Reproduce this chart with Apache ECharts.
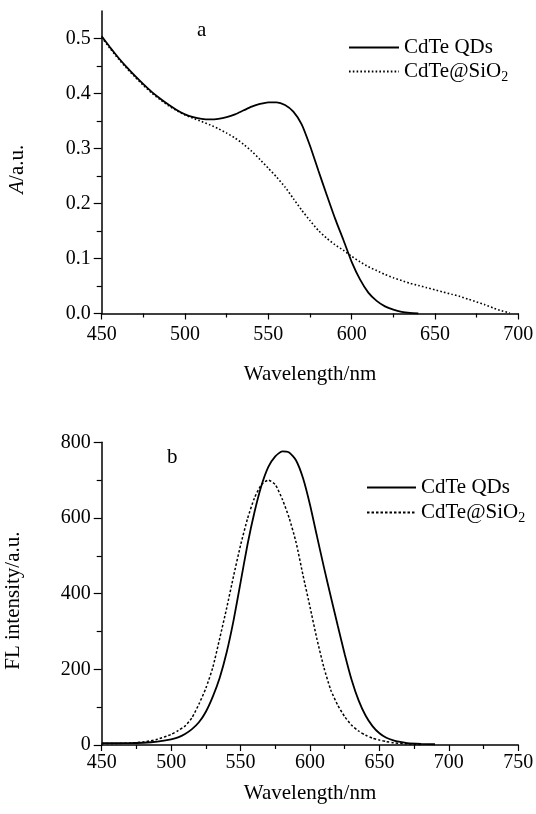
<!DOCTYPE html>
<html>
<head>
<meta charset="utf-8">
<script src="https://cdn.jsdelivr.net/npm/echarts@6/dist/echarts.min.js"></script>
<style>
    html, body { margin: 0; padding: 0; background: #fff; }
    #main { width: 536px; height: 814px; }
</style>
</head>
<body>
<div id="main"></div>
<script>
var element = document.querySelector('#main')
var myChart = echarts.init(element)

// panel a: absorption
const absWlQD = [450, 455, 460, 465, 470, 475, 480, 485, 490, 495, 500, 505, 510, 515, 520, 525, 530, 535, 540, 545,
    550, 555, 560, 565, 570, 575, 580, 585, 590, 595, 600, 605, 610, 615, 620, 625, 630, 635, 640]
const absQD = [0.504, 0.484, 0.465, 0.448, 0.432, 0.417, 0.403, 0.391, 0.380, 0.370, 0.362, 0.357, 0.354, 0.353, 0.354,
    0.357, 0.362, 0.369, 0.376, 0.381, 0.384, 0.384, 0.379, 0.367, 0.344, 0.305, 0.260, 0.216, 0.173, 0.134, 0.094,
    0.062, 0.038, 0.023, 0.013, 0.007, 0.003, 0.001, 0]
const absWlSi = [450, 455, 460, 465, 470, 475, 480, 485, 490, 495, 500, 505, 510, 515, 520, 525, 530, 535, 540, 545,
    550, 555, 560, 565, 570, 575, 580, 585, 590, 595, 600, 605, 610, 615, 620, 625, 630, 635, 640, 645, 650, 655, 660,
    665, 670, 675, 680, 685, 690, 695]
const absSi = [0.502, 0.482, 0.463, 0.446, 0.430, 0.415, 0.401, 0.389, 0.378, 0.369, 0.361, 0.355, 0.349, 0.343, 0.336,
    0.328, 0.319, 0.308, 0.295, 0.280, 0.264, 0.248, 0.230, 0.209, 0.188, 0.169, 0.151, 0.137, 0.125, 0.115, 0.104,
    0.094, 0.085, 0.078, 0.071, 0.065, 0.060, 0.055, 0.051, 0.047, 0.043, 0.039, 0.035, 0.031, 0.026, 0.021, 0.016,
    0.010, 0.005, 0.001]

// panel b: fluorescence
const flWlQD = [450, 460, 470, 480, 490, 500, 505, 510, 515, 520, 525, 530, 535, 540, 545, 550, 555, 560, 565, 570,
    575, 580, 585, 590, 595, 600, 605, 610, 615, 620, 625, 630, 635, 640, 645, 650, 655, 660, 665, 670, 680, 690]
const flQD = [5, 5, 5, 6, 9, 15, 20, 29, 42, 60, 88, 128, 178, 245, 330, 430, 530, 615, 685, 735,
    763, 776, 773, 752, 705, 635, 552, 470, 392, 315, 240, 172, 118, 78, 50, 31, 19, 12, 8, 5, 3, 2]
const flWlSi = [450, 460, 470, 480, 490, 500, 505, 510, 515, 520, 525, 530, 535, 540, 545, 550, 555, 560, 565, 570,
    575, 580, 585, 590, 595, 600, 605, 610, 615, 620, 625, 630, 635, 640, 645, 650, 655, 660, 670, 680]
const flSi = [4, 4, 5, 8, 15, 28, 38, 50, 72, 108, 150, 205, 282, 362, 447, 528, 598, 653, 688, 700,
    688, 650, 600, 535, 448, 365, 280, 205, 145, 105, 75, 52, 37, 26, 18, 13, 9, 6, 3, 1]

const aLabels = [0, 0.1, 0.2, 0.3, 0.4, 0.5]
const aMinor = [0.05, 0.15, 0.25, 0.35, 0.45]

const nameQD = 'CdTe QDs'
const nameSi = 'CdTe@SiO2'

const pairs = (xs, ys) => xs.map((x, i) => [x, ys[i]])

const font = 'Liberation Serif'
const black = '#000'
const tickSize = 20
const textSize = 21

const axisCommon = {
    axisLine: { show: true, onZero: false, lineStyle: { color: black, width: 1.5 } },
    splitLine: { show: false },
    nameLocation: 'middle',
    nameTextStyle: { fontFamily: font, fontSize: textSize, color: black },
}

const legendFormatter = (name) => name === nameSi ? 'CdTe@SiO{sub|2}' : name
const legendText = {
    fontFamily: font, fontSize: textSize, color: black,
    rich: { sub: { fontFamily: font, fontSize: 14, color: black, padding: [12, 0, 0, 0] } }
}

const option = {
    backgroundColor: '#fff',
    animation: false,
    title: [
        { text: 'a', left: 197, top: 20, padding: 0, textStyle: { fontFamily: font, fontSize: textSize, fontWeight: 'normal', color: black } },
        { text: 'b', left: 167, top: 447, padding: 0, textStyle: { fontFamily: font, fontSize: textSize, fontWeight: 'normal', color: black } },
    ],
    legend: [
        {
            data: [nameQD, nameSi], orient: 'vertical', left: 348, top: 37, itemWidth: 50, itemHeight: 14,
            itemGap: 3, formatter: legendFormatter, textStyle: legendText, padding: 0,
            itemStyle: { opacity: 0 },
        },
        {
            data: [nameQD + ' ', nameSi + ' '], orient: 'vertical', left: 366, top: 477, itemWidth: 49, itemHeight: 14,
            itemGap: 4, formatter: (n) => legendFormatter(n.trim()), textStyle: legendText, padding: 0,
            itemStyle: { opacity: 0 },
        },
    ],
    grid: [
        { left: 101.7, right: 17.7, top: 11, height: 302.5, outerBoundsMode: 'none', containLabel: false },
        { left: 101.7, right: 17.7, top: 442.3, height: 302.7, outerBoundsMode: 'none', containLabel: false },
    ],
    xAxis: [
        Object.assign({}, axisCommon, {
            gridIndex: 0, type: 'value', min: 450, max: 700, interval: 50,
            name: 'Wavelength/nm', nameGap: 50,
            axisTick: { show: true, length: 6, lineStyle: { color: black, width: 1.2 } },
            minorTick: { show: true, splitNumber: 2, length: 4, lineStyle: { color: black, width: 1.2 } },
            axisLabel: { fontFamily: font, fontSize: tickSize, color: black, margin: 11 },
        }),
        Object.assign({}, axisCommon, {
            gridIndex: 1, type: 'value', min: 450, max: 750, interval: 50,
            name: 'Wavelength/nm', nameGap: 38,
            axisTick: { show: true, length: 6, lineStyle: { color: black, width: 1.2 } },
            minorTick: { show: true, splitNumber: 2, length: 4, lineStyle: { color: black, width: 1.2 } },
            axisLabel: { fontFamily: font, fontSize: tickSize, color: black, margin: 8 },
        }),
    ],
    yAxis: [
        Object.assign({}, axisCommon, {
            gridIndex: 0, type: 'value', min: 0, max: 0.55,
            name: '{i|A}/a.u.', nameGap: 74,
            nameTextStyle: {
                fontFamily: font, fontSize: textSize, color: black, padding: [0, 14, 0, 0],
                rich: { i: { fontFamily: font, fontSize: textSize, fontStyle: 'italic', color: black } }
            },
            axisTick: { show: true, length: 8, customValues: aLabels, lineStyle: { color: black, width: 1.2 } },
            axisLabel: { fontFamily: font, fontSize: tickSize, color: black, margin: 11, customValues: aLabels,
                formatter: (v) => v.toFixed(1) },
        }),
        {
            gridIndex: 0, type: 'value', min: 0, max: 0.55, position: 'left',
            axisLine: { show: false }, splitLine: { show: false }, axisLabel: { show: false },
            axisTick: { show: true, length: 5, customValues: aMinor, lineStyle: { color: black, width: 1.2 } },
        },
        Object.assign({}, axisCommon, {
            gridIndex: 1, type: 'value', min: 0, max: 800, interval: 200,
            name: 'FL intensity/a.u.', nameGap: 78,
            nameTextStyle: { fontFamily: font, fontSize: textSize, color: black, padding: [0, 14, 0, 0] },
            axisTick: { show: true, length: 8, lineStyle: { color: black, width: 1.2 } },
            minorTick: { show: true, splitNumber: 2, length: 5, lineStyle: { color: black, width: 1.2 } },
            axisLabel: { fontFamily: font, fontSize: tickSize, color: black, margin: 11 },
        }),
    ],
    series: [
        {
            name: nameQD, type: 'line', xAxisIndex: 0, yAxisIndex: 0, data: pairs(absWlQD, absQD),
            showSymbol: false, symbol: 'none', smooth: 0.2, lineStyle: { color: black, width: 1.8, type: 'solid' },
            itemStyle: { color: black },
        },
        {
            name: nameSi, type: 'line', xAxisIndex: 0, yAxisIndex: 0, data: pairs(absWlSi, absSi),
            showSymbol: false, symbol: 'none', smooth: 0.2, lineStyle: { color: black, width: 1.6, type: [1.6, 2.2] },
            itemStyle: { color: black },
        },
        {
            name: nameQD + ' ', type: 'line', xAxisIndex: 1, yAxisIndex: 2, data: pairs(flWlQD, flQD),
            showSymbol: false, symbol: 'none', smooth: 0.2, lineStyle: { color: black, width: 1.8, type: 'solid' },
            itemStyle: { color: black },
        },
        {
            name: nameSi + ' ', type: 'line', xAxisIndex: 1, yAxisIndex: 2, data: pairs(flWlSi, flSi),
            showSymbol: false, symbol: 'none', smooth: 0.2, lineStyle: { color: black, width: 1.5, type: [2.5, 2] },
            itemStyle: { color: black },
        },
    ],
}

myChart.setOption(option)
</script>
</body>
</html>
